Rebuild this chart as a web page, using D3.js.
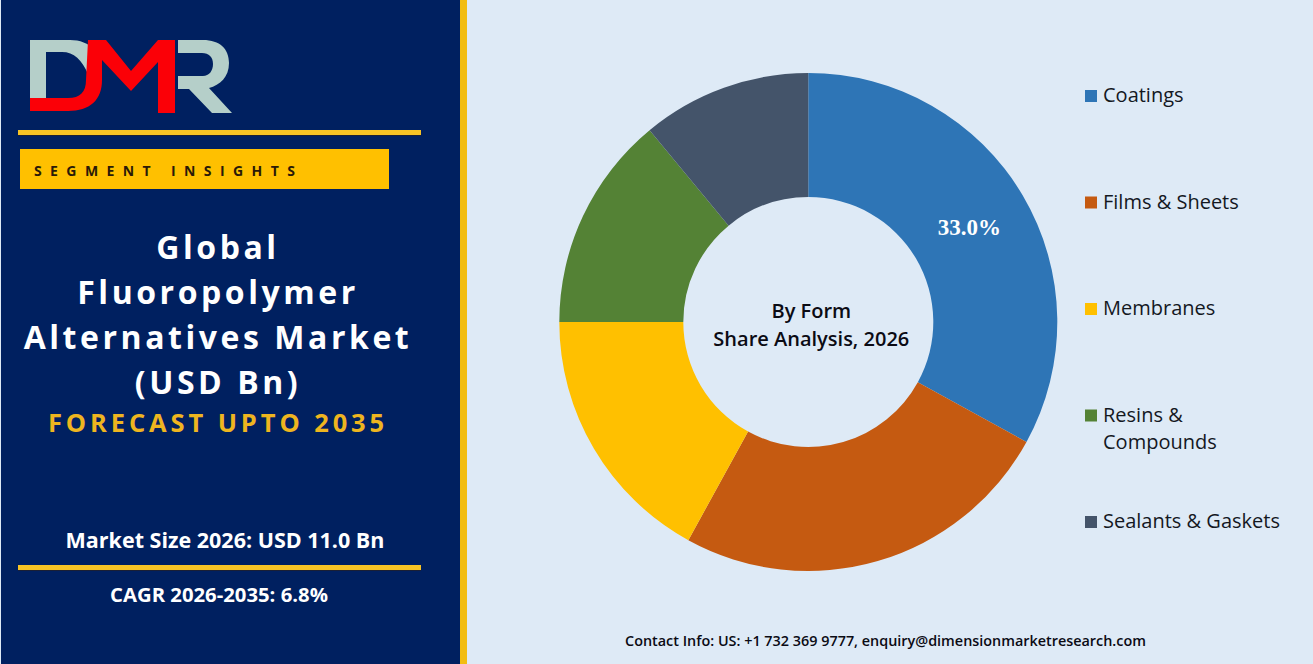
<!DOCTYPE html>
<html>
<head>
<meta charset="utf-8">
<script src="https://cdnjs.cloudflare.com/ajax/libs/d3/7.8.5/d3.min.js"></script>
<style>
html, body { margin: 0; padding: 0; background: #deeaf6; overflow: hidden; }
text { font-family: "Open Sans", "Noto Sans", sans-serif; }
</style>
</head>
<body>
<script>
// chart data
var categories = ["Coatings", "Films & Sheets", "Membranes", "Resins & Compounds", "Sealants & Gaskets"];
var shares = [33.0, 25.0, 17.0, 14.0, 11.0];
var sliceColors = ["#2e75b6", "#c55a11", "#ffc000", "#548235", "#44546a"];
var legendLines = [["Coatings"], ["Films & Sheets"], ["Membranes"], ["Resins &", "Compounds"], ["Sealants & Gaskets"]];
var titleLines = ["Global", "Fluoropolymer", "Alternatives Market", "(USD Bn)"];
var centerLines = ["By Form", "Share Analysis, 2026"];

var w = 1313, h = 664;
var svg = d3.select("body").append("svg")
    .attr("width", w)
    .attr("height", h)
    .style("display", "block");

svg.append("rect").attr("width", w).attr("height", h).attr("fill", "#deeaf6");

// left panel
svg.append("rect").attr("x", 1).attr("width", 459).attr("height", h).attr("fill", "#002060");
svg.append("rect").attr("x", 460).attr("width", 7).attr("height", h).attr("fill", "#f2bd12");

// logo
var logo = svg.append("g");
logo.append("path").attr("fill", "#b5cfc9")
    .attr("d", "M30,40 H70 C80,40 88,43 95,50 L88,74 C82,60 74,52 62,52 H46 V98 H30 Z");
logo.append("path").attr("fill", "#b5cfc9")
    .attr("d", "M178,40 H203 C220,40 229,49 229,63 C229,77 220,85 209,88 L232,113 H212 L189,89 H178 V76 H203 C209,76 213,71 213,64 C213,57 209,53 202,53 H178 Z");
logo.append("path").attr("fill", "#fb0007")
    .attr("d", "M30,98 H68 C80,98 86,92 86,80 L88,40 H106 L131,71 L158,40 H175 V113 H158 V62 L131,91 L102,60 V80 C102,100 90,111 68,111 H30 Z");

// rules and the segment box
[130, 565].forEach(function(y){
    svg.append("rect").attr("x", 18).attr("y", y + 1).attr("width", 403).attr("height", 5).attr("fill", "#1a1f35");
    svg.append("rect").attr("x", 18).attr("y", y).attr("width", 403).attr("height", 5).attr("fill", "#f7c325");
});
svg.append("rect").attr("x", 20).attr("y", 149).attr("width", 369).attr("height", 40).attr("fill", "#ffc000");
svg.append("text").attr("x", 34).attr("y", 176)
    .attr("font-size", 14).attr("font-weight", 700).attr("letter-spacing", 8.4)
    .attr("fill", "#2a1a08").text("SEGMENT INSIGHTS");

// title block
svg.selectAll(".title").data(titleLines).enter().append("text")
    .attr("class", "title")
    .attr("x", 218)
    .attr("y", function(d, i){ return 259 + i * 45; })
    .attr("text-anchor", "middle")
    .attr("font-size", 32).attr("font-weight", 700).attr("letter-spacing", 3.55)
    .attr("fill", "#ffffff")
    .text(function(d){ return d; });
svg.append("text").attr("x", 218).attr("y", 432)
    .attr("text-anchor", "middle")
    .attr("font-size", 25.5).attr("font-weight", 700).attr("letter-spacing", 3.9)
    .attr("fill", "#eeb51f").text("FORECAST UPTO 2035");
svg.append("text").attr("x", 225).attr("y", 548)
    .attr("text-anchor", "middle")
    .attr("font-size", 21.5).attr("font-weight", 700)
    .attr("fill", "#ffffff").text("Market Size 2026: USD 11.0 Bn");
svg.append("text").attr("x", 219).attr("y", 602)
    .attr("text-anchor", "middle")
    .attr("font-size", 20.3).attr("font-weight", 700)
    .attr("fill", "#ffffff").text("CAGR 2026-2035: 6.8%");

// donut
var color = d3.scaleOrdinal().domain(categories).range(sliceColors);
var pie = d3.pie().sort(null).value(function(d){ return d.share; });
var rows = categories.map(function(c, i){ return {name: c, share: shares[i]}; });
var arc = d3.arc().innerRadius(125).outerRadius(249);

var donut = svg.append("g").attr("transform", "translate(808.3,322)");
donut.selectAll("path").data(pie(rows)).enter().append("path")
    .attr("d", arc)
    .attr("fill", function(d){ return color(d.data.name); });

// only the first slice carries a label
var first = pie(rows)[0];
donut.append("text")
    .attr("x", arc.centroid(first)[0])
    .attr("y", arc.centroid(first)[1] + 8)
    .attr("text-anchor", "middle")
    .style("font-family", "'Liberation Serif', serif")
    .attr("font-size", 23).attr("font-weight", 700)
    .attr("fill", "#ffffff")
    .text(first.data.share.toFixed(1) + "%");

donut.selectAll(".center").data(centerLines).enter().append("text")
    .attr("class", "center")
    .attr("x", 3)
    .attr("y", function(d, i){ return -4 + i * 28; })
    .attr("text-anchor", "middle")
    .attr("font-size", 20).attr("font-weight", 600)
    .attr("fill", "#0b0b14")
    .text(function(d){ return d; });

// legend
var legendY = d3.scalePoint().domain(categories).range([95, 521]);
var legend = svg.selectAll(".legend").data(categories).enter().append("g")
    .attr("class", "legend")
    .attr("transform", function(d){ return "translate(1085," + legendY(d) + ")"; });
legend.append("rect")
    .attr("y", -5).attr("width", 12).attr("height", 12)
    .attr("fill", function(d){ return color(d); });
legend.each(function(d, i){
    d3.select(this).selectAll("text").data(legendLines[i]).enter().append("text")
        .attr("x", 18)
        .attr("y", function(t, j){ return 7 + j * 27; })
        .attr("font-size", 20)
        .attr("fill", "#14181f")
        .text(function(t){ return t; });
});

// footer
svg.append("text").attr("x", 885.5).attr("y", 646)
    .attr("text-anchor", "middle")
    .attr("font-size", 14.4).attr("font-weight", 600)
    .attr("fill", "#0b0b14")
    .text("Contact Info: US: +1 732 369 9777, enquiry@dimensionmarketresearch.com");
</script>
</body>
</html>
